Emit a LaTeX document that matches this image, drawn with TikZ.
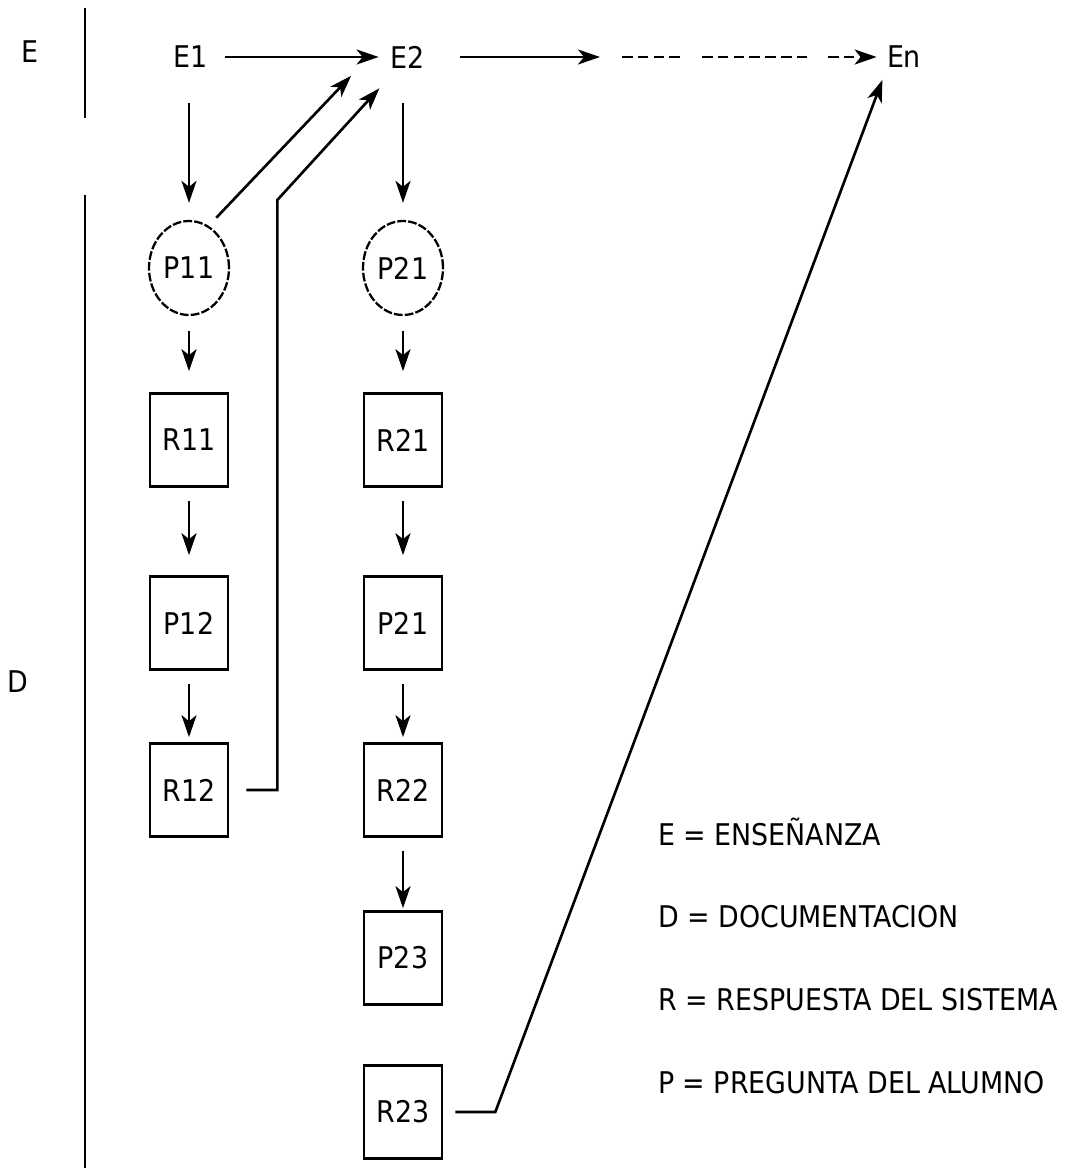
\documentclass[tikz,border=0pt]{standalone}
\usepackage{fontspec}
\setmainfont{DejaVu Sans Condensed}
\usetikzlibrary{shapes.geometric, arrows.meta, positioning}
\tikzstyle{arrow} = [line width=1.5pt, ->, >={Stealth[length=4.4mm, width=3mm, inset=1.2mm]}]
\tikzstyle{flujo} = [arrow, shorten <=2.6mm, shorten >=1mm]
\tikzstyle{caja} = [draw, line width=1.5pt, minimum width=1.56cm, minimum height=1.86cm, inner sep=0pt]
\tikzstyle{preg} = [draw, ellipse, line width=1.3pt, dash pattern=on 5pt off 1.2pt, minimum width=1.6cm, minimum height=1.88cm, inner sep=0pt]
\tikzstyle{etapa} = [inner sep=0pt]

\begin{document}
\begin{tikzpicture}[x=0.2mm, y=-0.2mm, font=\fontsize{17}{20}\selectfont]
    \useasboundingbox (0,0) rectangle (1071,1175);

    % separadores E / D
    \draw[line width=1.5pt] (85,8) -- (85,118);
    \draw[line width=1.5pt] (85,195) -- (85,1168);
    \node (labE) at (30,52) {E};
    \node (labD) at (18,682) {D};

    % etapas de ensenanza
    \node[etapa] (E1) at (191,57) {E1};
    \node[etapa] (E2) at (408,57) {E2};
    \node[etapa] (En) at (904,57) {En};
    \coordinate (s1) at (600,57);
    \coordinate (d1) at (622,57);
    \coordinate (d2) at (680,57);
    \coordinate (d3) at (702,57);
    \coordinate (d4) at (811,57);
    \coordinate (d5) at (828,57);

    % primera columna
    \node[preg] (P11) at (189,268) {P11};
    \node[caja] (R11) at (189,440) {R11};
    \node[caja] (P12) at (189,623) {P12};
    \node[caja] (R12) at (189,790) {R12};

    % segunda columna
    \node[preg] (P21) at (403,268) {P21};
    \node[caja] (R21) at (403,440) {R21};
    \node[caja] (P21b) at (403,623) {P21};
    \node[caja] (R22) at (403,790) {R22};
    \node[caja] (P23) at (403,958) {P23};
    \node[caja] (R23) at (403,1112) {R23};

    % leyenda
    \node[anchor=west] (leyE) at (652,832) {E = ENSEÑANZA};
    \node[anchor=west] (leyD) at (652,917) {D = DOCUMENTACION};
    \node[anchor=west] (leyR) at (652,1000) {R = RESPUESTA DEL SISTEMA};
    \node[anchor=west] (leyP) at (652,1083) {P = PREGUNTA DEL ALUMNO};

    % flechas
    \draw[arrow, shorten <=3.4mm, shorten >=2.4mm] (E1) -- (E2);
    \draw[arrow, shorten <=7mm] (E2) -- (s1);
    \draw[line width=1.5pt, dash pattern=on 6pt off 3pt] (d1) -- (d2);
    \draw[line width=1.5pt, dash pattern=on 6pt off 3pt] (d3) -- (d4);
    \draw[arrow, dash pattern=on 6pt off 3pt, shorten >=2mm] (d5) -- (En);

    \draw[arrow, shorten <=7mm, shorten >=3.4mm] (E1.south -| P11) -- (P11);
    \draw[arrow, shorten <=7mm, shorten >=3.4mm] (E2.south -| P21) -- (P21);
    \draw[flujo, shorten <=3mm, shorten >=4.2mm] (P11) -- (R11);
    \draw[flujo, shorten >=4mm] (R11) -- (P12);
    \draw[flujo] (P12) -- (R12);
    \draw[flujo, shorten <=3mm, shorten >=4.2mm] (P21) -- (R21);
    \draw[flujo, shorten >=4mm] (R21) -- (P21b);
    \draw[flujo] (P21b) -- (R22);
    \draw[flujo, shorten >=0.4mm] (R22) -- (P23);

    % retornos
    \draw[arrow, shorten <=2.2mm, shorten >=5.2mm] (P11.65) -- ([xshift=-7.8mm]E2.center);
    \draw[arrow, shorten <=3.4mm, shorten >=8.5mm] (R12.east) -- ++(48,0) -- ++(0,-590) -- (E2.center);
    \draw[arrow, shorten <=2.4mm, shorten >=4.9mm] (R23.east) -- ++(52,0) -- ([xshift=-2.6mm]En.center);
\end{tikzpicture}
\end{document}
